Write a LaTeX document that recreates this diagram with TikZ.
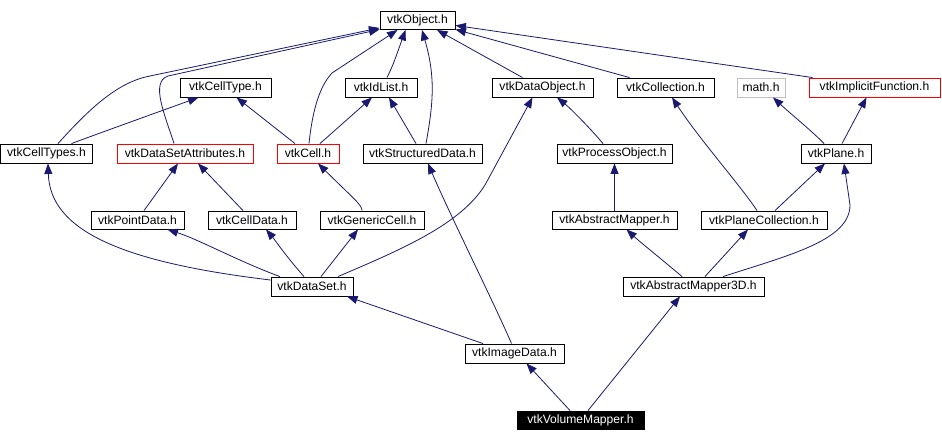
\documentclass[tikz,border=0pt]{standalone}
\usepackage{fontspec}
\setmainfont{Liberation Sans}
\usetikzlibrary{arrows.meta}
\definecolor{edgeblue}{HTML}{191970}
\definecolor{boxgray}{HTML}{BFBFBF}
\definecolor{boxred}{HTML}{FF0000}
\begin{document}
\begin{tikzpicture}[x=1pt,y=-1pt,
  box/.style={draw=black,line width=0.9pt,rectangle,inner sep=0pt,minimum height=19pt,
    font=\fontsize{12.1}{13}\selectfont,text=black,fill=white},
  redbox/.style={box,draw=boxred},
  graybox/.style={box,draw=boxgray},
  blackbox/.style={box,fill=black,text=white},
  edge/.style={draw=edgeblue,line width=0.8pt,-{Triangle[length=10.5pt,width=8pt]},fill=none}]
\useasboundingbox (0,0) rectangle (942,442);
% row 1
\node[box,minimum width=75pt,minimum height=18pt] (obj) at (417.5,20.5) {vtkObject.h};
% row 2
\node[box,minimum width=91pt] (celltype) at (225.5,87.5) {vtkCellType.h};
\node[box,minimum width=72pt] (idlist) at (381,87.5) {vtkIdList.h};
\node[box,minimum width=101pt] (dataobject) at (542.5,87.5) {vtkDataObject.h};
\node[box,minimum width=97pt] (collection) at (665.5,87.5) {vtkCollection.h};
\node[graybox,minimum width=48pt] (math) at (761,87.5) {math.h};
\node[redbox,minimum width=131pt] (implicit) at (874.5,87.5) {vtkImplicitFunction.h};
% row 3
\node[box,minimum width=92pt] (celltypes) at (46.5,153.5) {vtkCellTypes.h};
\node[redbox,minimum width=136pt] (dsattr) at (185,153.5) {vtkDataSetAttributes.h};
\node[redbox,minimum width=62pt] (cell) at (308,153.5) {vtkCell.h};
\node[box,minimum width=119pt] (structured) at (422.5,153.5) {vtkStructuredData.h};
\node[box,minimum width=115pt] (processobj) at (614.5,153.5) {vtkProcessObject.h};
\node[box,minimum width=70pt] (plane) at (836,153.5) {vtkPlane.h};
% row 4
\node[box,minimum width=93pt,minimum height=18pt] (pointdata) at (137.5,220) {vtkPointData.h};
\node[box,minimum width=88pt,minimum height=18pt] (celldata) at (252,220) {vtkCellData.h};
\node[box,minimum width=104pt,minimum height=18pt] (genericcell) at (372,220) {vtkGenericCell.h};
\node[box,minimum width=125pt,minimum height=18pt] (absmapper) at (614.5,220) {vtkAbstractMapper.h};
\node[box,minimum width=126pt,minimum height=18pt] (planecoll) at (764,220) {vtkPlaneCollection.h};
% row 5
\node[box,minimum width=82pt] (dataset) at (312,286.5) {vtkDataSet.h};
\node[box,minimum width=141pt] (absmapper3d) at (693.5,286.5) {vtkAbstractMapper3D.h};
% row 6
\node[box,minimum width=99pt] (imagedata) at (514.5,353.5) {vtkImageData.h};
% row 7
\node[blackbox,minimum width=127pt,minimum height=18pt] (volmapper) at (580.5,420) {vtkVolumeMapper.h};
% edges
\draw[edge] ([xshift=11.5pt]celltypes.north) .. controls (90,108) and (118,82) .. (150,76) -- ([yshift=2pt]obj.south west);
\draw[edge] ([xshift=-11pt]dsattr.north) .. controls (165,115) and (150,82) .. (168,76) -- ([yshift=0.5pt]obj.south west);
\draw[edge] ([xshift=1pt]cell.north) .. controls (312,115) and (318,88) .. (332,73) -- ([xshift=-20pt]obj.south);
\draw[edge] ([xshift=-13pt]cell.north) -- ([xshift=11pt]celltype.south);
\draw[edge] ([xshift=25pt]celltypes.north) .. controls (100,133) .. ([xshift=-27pt]celltype.south);
\draw[edge] ([xshift=12pt]cell.north) -- ([xshift=-9pt]idlist.south);
\draw[edge] ([xshift=6pt]idlist.north) .. controls (393,65) .. ([xshift=-12pt]obj.south);
\draw[edge] ([xshift=3.5pt]structured.north) .. controls (434,100) and (435,75) .. ([xshift=4.5pt]obj.south);
\draw[edge] ([xshift=-6.5pt]structured.north) -- ([xshift=8pt]idlist.south);
\draw[edge] ([xshift=-20pt]dataobject.north) -- ([xshift=19.5pt]obj.south);
\draw[edge] ([xshift=-36pt]collection.north) -- ([yshift=0.5pt]obj.south east);
\draw[edge] ([xshift=-62pt]implicit.north) -- ([yshift=4.5pt]obj.south east);
\draw[edge] ([xshift=-11.5pt]processobj.north) .. controls (590,128) and (570,108) .. ([xshift=14.5pt]dataobject.south);
\draw[edge] ([xshift=26pt]dataset.north) .. controls (400,250) and (460,225) .. (485,185) -- ([xshift=-10pt]dataobject.south);
\draw[edge] ([xshift=-12pt]plane.north) .. controls (813,132) and (792,115) .. ([xshift=12pt]math.south);
\draw[edge] ([xshift=6pt]plane.north) -- ([xshift=-8pt]implicit.south);
\draw[edge] ([xshift=6.5pt]pointdata.north) -- ([xshift=-7pt]dsattr.south);
\draw[edge] ([xshift=-9pt]celldata.north) -- ([xshift=13pt]dsattr.south);
\draw[edge] ([xshift=-10pt]genericcell.north) .. controls (362,205) and (355,200) .. ([xshift=10pt]cell.south);
\draw[edge] (absmapper.north) -- (processobj.south);
\draw[edge] ([xshift=-7pt]planecoll.north) .. controls (740,185) and (700,140) .. ([xshift=6.5pt]collection.south);
\draw[edge] ([xshift=11pt]planecoll.north) -- ([xshift=-11pt]plane.south);
\draw[edge] ([yshift=6.5pt]dataset.west) .. controls (120,262) and (50,230) .. ([xshift=1.5pt]celltypes.south);
\draw[edge] ([xshift=-32pt]dataset.north) .. controls (240,262) and (200,240) .. ([xshift=30pt]pointdata.south);
\draw[edge] ([xshift=-8pt]dataset.north) .. controls (285,255) and (275,240) .. ([xshift=14pt]celldata.south);
\draw[edge] ([xshift=9pt]dataset.north) -- ([xshift=-14pt]genericcell.south);
\draw[edge] ([xshift=-11.5pt]absmapper3d.north) .. controls (665,262) and (640,242) .. ([xshift=12pt]absmapper.south);
\draw[edge] ([xshift=11.5pt]absmapper3d.north) -- ([xshift=-16pt]planecoll.south);
\draw[edge] ([xshift=29.5pt]absmapper3d.north) .. controls (790,255) and (850,240) .. (850,205) -- ([xshift=8pt]plane.south);
\draw[edge] ([xshift=-31.5pt]imagedata.north) -- ([xshift=35pt]dataset.south);
\draw[edge] ([xshift=-3pt]imagedata.north) .. controls (495,305) and (450,215) .. ([xshift=5.5pt]structured.south);
\draw[edge] ([xshift=-10.5pt]volmapper.north) -- ([xshift=12pt]imagedata.south);
\draw[edge] ([xshift=7.5pt]volmapper.north) -- ([xshift=-13.5pt]absmapper3d.south);
\end{tikzpicture}
\end{document}
